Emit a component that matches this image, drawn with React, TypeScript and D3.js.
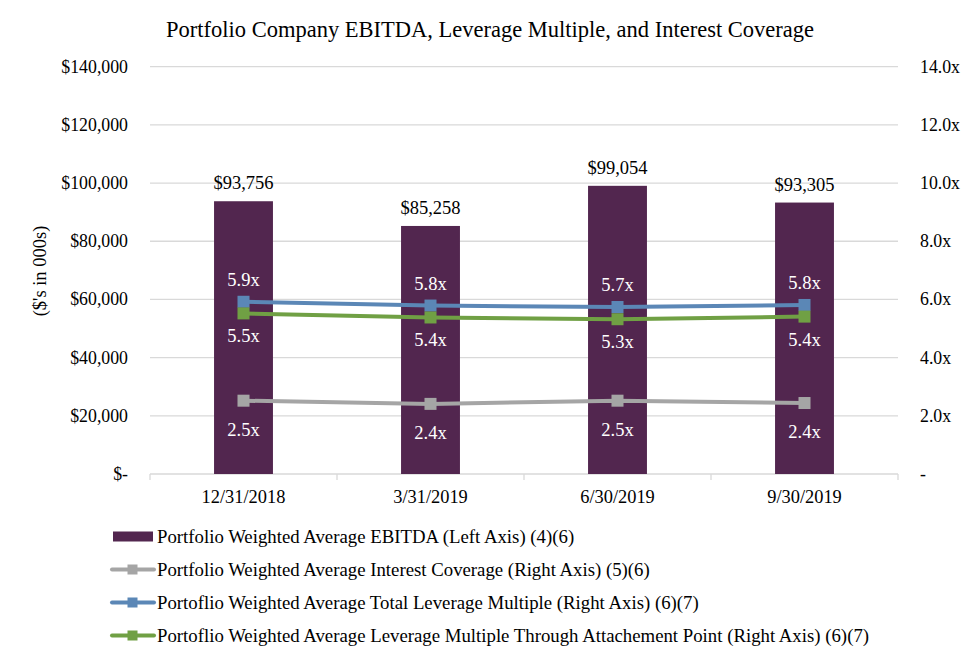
import React from "react";
import * as d3 from "d3";

const categories = ["12/31/2018", "3/31/2019", "6/30/2019", "9/30/2019"];
const ebitda = [93756, 85258, 99054, 93305];
const interestCoverage = [2.52, 2.41, 2.52, 2.44];
const totalLeverage = [5.92, 5.79, 5.74, 5.81];
const attachLeverage = [5.52, 5.38, 5.32, 5.41];
const leftTicks = [0, 20000, 40000, 60000, 80000, 100000, 120000, 140000];
const rightTicks = [0, 2, 4, 6, 8, 10, 12, 14];

const legendItems = [
  { label: "Portfolio Weighted Average EBITDA (Left Axis) (4)(6)", color: "#52264f", kind: "bar" },
  { label: "Portfolio Weighted Average Interest Coverage (Right Axis) (5)(6)", color: "#a5a5a5", kind: "line" },
  { label: "Portoflio Weighted Average Total Leverage Multiple (Right Axis) (6)(7)", color: "#5b87b6", kind: "line" },
  { label: "Portoflio Weighted Average Leverage Multiple Through Attachement Point (Right Axis) (6)(7)", color: "#70a044", kind: "line" },
];

export default function App() {
  const W = 980, H = 661;
  const x0 = 150, x1 = 898, yTop = 66.7, yBot = 474;
  const font = "'Liberation Serif', 'Times New Roman', serif";
  const x = d3.scaleBand<string>().domain(categories).range([x0, x1]).paddingInner(0).paddingOuter(0);
  const yL = d3.scaleLinear().domain([0, 140000]).range([yBot, yTop]);
  const yR = d3.scaleLinear().domain([0, 14]).range([yBot, yTop]);
  const barW = x.bandwidth() * 0.315;
  const cx = (c: string) => (x(c) as number) + x.bandwidth() / 2;
  const fmtL = (v: number) => (v === 0 ? "$-" : "$" + d3.format(",")(v));
  const fmtR = (v: number) => (v === 0 ? "-" : v.toFixed(1) + "x");
  const line = d3.line<number>().x((_, i) => cx(categories[i])).y((v) => yR(v));

  const series = [
    { data: interestCoverage, color: "#a5a5a5", dy: 35 },
    { data: totalLeverage, color: "#5b87b6", dy: -16 },
    { data: attachLeverage, color: "#70a044", dy: 29 },
  ];

  return (
    <svg width={W} height={H} style={{ position: "absolute", left: 0, top: 0, background: "#fff" }} fontFamily={font}>
      <rect width={W} height={H} fill="#fff" />
      <text x={490} y={37} textAnchor="middle" fontSize={22.5} fill="#000">
        Portfolio Company EBITDA, Leverage Multiple, and Interest Coverage
      </text>
      {leftTicks.map((t) => (
        <g key={t}>
          {t > 0 && <line x1={x0} x2={x1} y1={yL(t)} y2={yL(t)} stroke="#d9d9d9" strokeWidth={1.3} />}
          <text x={128} y={yL(t) + 6} textAnchor="end" fontSize={17.8} fill="#000">{fmtL(t)}</text>
        </g>
      ))}
      {rightTicks.map((t) => (
        <text key={t} x={920} y={yR(t) + 6} textAnchor="start" fontSize={17.8} fill="#000">{fmtR(t)}</text>
      ))}
      <line x1={x0} x2={x1} y1={yBot} y2={yBot} stroke="#d9d9d9" strokeWidth={1.3} />
      {[...categories.map((c) => x(c) as number), x1].map((tx, i) => (
        <line key={i} x1={tx} x2={tx} y1={yBot} y2={yBot + 6} stroke="#d9d9d9" strokeWidth={1.3} />
      ))}
      <text transform={`translate(46,${271}) rotate(-90)`} textAnchor="middle" fontSize={18.5} fill="#000">
        ($'s in 000s)
      </text>
      {categories.map((c, i) => (
        <g key={c}>
          <rect x={cx(c) - barW / 2} y={yL(ebitda[i])} width={barW} height={yBot - yL(ebitda[i])} fill="#52264f" />
          <text x={cx(c)} y={yL(ebitda[i]) - 12} textAnchor="middle" fontSize={18.5} fill="#000">
            {"$" + d3.format(",")(ebitda[i])}
          </text>
          <text x={cx(c)} y={yBot + 29} textAnchor="middle" fontSize={18.4} fill="#000">{c}</text>
        </g>
      ))}
      {series.map((s, k) => (
        <g key={k}>
          <path d={line(s.data) as string} fill="none" stroke={s.color} strokeWidth={4} />
          {s.data.map((v, i) => (
            <rect key={i} x={cx(categories[i]) - 6} y={yR(v) - 6} width={12} height={12} fill={s.color} />
          ))}
          {s.data.map((v, i) => (
            <text key={"t" + i} x={cx(categories[i])} y={yR(v) + s.dy} textAnchor="middle" fontSize={18.5} fill="#fff">
              {v.toFixed(1) + "x"}
            </text>
          ))}
        </g>
      ))}
      {legendItems.map((it, i) => {
        const ly = 536.5 + i * 33;
        return (
          <g key={i}>
            {it.kind === "bar" ? (
              <rect x={113} y={ly - 5} width={40} height={10} fill={it.color} />
            ) : (
              <g>
                <line x1={112} x2={154} y1={ly} y2={ly} stroke={it.color} strokeWidth={4} strokeLinecap="round" />
                <rect x={127.5} y={ly - 5} width={10} height={10} fill={it.color} />
              </g>
            )}
            <text x={157} y={ly + 6} fontSize={18.8} fill="#000">{it.label}</text>
          </g>
        );
      })}
    </svg>
  );
}
